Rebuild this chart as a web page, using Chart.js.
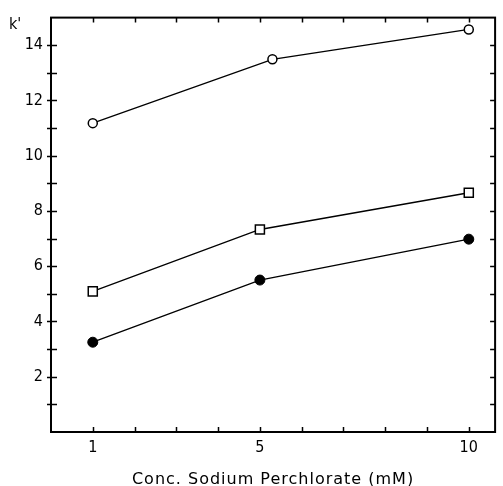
<!DOCTYPE html>
<html>
<head>
<meta charset="utf-8">
<script src="https://cdn.jsdelivr.net/npm/chart.js@4"></script>
<style>
  html, body { margin: 0; padding: 0; background: #fff; }
  #wrap { width: 503px; height: 486px; }
</style>
</head>
<body>
<div id="wrap"><canvas id="chart" width="503" height="486"></canvas></div>
<script>
// ====== data
const xOpenCircle = [1, 5.3, 10];
const kOpenCircle = [11.18, 13.49, 14.57];
const xSquare = [1, 5, 10];
const kSquare = [5.09, 7.33, 8.66];
const xFilled = [1, 5, 10];
const kFilled = [3.25, 5.5, 6.98];
const xTickLabels = [1, 5, 10];
const yTickLabels = [2, 4, 6, 8, 10, 12, 14];

const FONT = "'DejaVu Sans Condensed', 'DejaVu Sans', sans-serif";
const toPoints = (xs, ys) => xs.map((x, i) => ({ x, y: ys[i] }));

// ====== frame, inward ticks, axis titles
const framePlugin = {
  id: "frame",
  afterDraw: (chart) => {
    const { ctx, chartArea: a, scales } = chart;
    const x = scales.x, y = scales.y;
    ctx.save();
    ctx.strokeStyle = "#000";
    ctx.lineWidth = 2;
    ctx.strokeRect(a.left, a.top, a.right - a.left, a.bottom - a.top);

    ctx.lineWidth = 1.5;
    ctx.beginPath();
    for (let v = 1; v <= 10; v++) {
      const px = Math.round(x.getPixelForValue(v)) + 0.5;
      ctx.moveTo(px, a.bottom); ctx.lineTo(px, a.bottom - 5);
      ctx.moveTo(px, a.top); ctx.lineTo(px, a.top + 5);
    }
    for (let v = 1; v <= 14; v++) {
      const py = Math.round(y.getPixelForValue(v)) + 0.5;
      ctx.moveTo(a.left - 4, py); ctx.lineTo(a.left + 6, py);
      ctx.moveTo(a.right, py); ctx.lineTo(a.right - 5, py);
    }
    ctx.stroke();

    ctx.fillStyle = "#000";
    ctx.font = "16px " + FONT;
    ctx.textAlign = "left";
    ctx.textBaseline = "alphabetic";
    ctx.fillText("k'", 9, 29);

    ctx.font = "16px 'DejaVu Sans', sans-serif";
    ctx.letterSpacing = "1px";
    ctx.textAlign = "center";
    ctx.fillText("Conc. Sodium Perchlorate (mM)", (a.left + a.right) / 2, 484);
    ctx.restore();
  },
};

const ctx = document.getElementById("chart").getContext("2d");
new Chart(ctx, {
  type: "scatter",
  data: {
    datasets: [
      {
        data: toPoints(xOpenCircle, kOpenCircle),
        showLine: true,
        borderColor: "#000",
        borderWidth: 1.3,
        pointStyle: "circle",
        pointRadius: 4.5,
        pointBorderWidth: 1.5,
        pointBackgroundColor: "#fff",
        pointBorderColor: "#000",
      },
      {
        data: toPoints(xSquare, kSquare),
        showLine: true,
        borderColor: "#000",
        borderWidth: 1.3,
        pointStyle: "rect",
        pointRadius: 6.4,
        pointBorderWidth: 1.5,
        pointBackgroundColor: "#fff",
        pointBorderColor: "#000",
      },
      {
        data: toPoints(xFilled, kFilled),
        showLine: true,
        borderColor: "#000",
        borderWidth: 1.3,
        pointStyle: "circle",
        pointRadius: 5,
        pointBorderWidth: 1,
        pointBackgroundColor: "#000",
        pointBorderColor: "#000",
      },
    ],
  },
  options: {
    responsive: false,
    animation: false,
    layout: { padding: { top: 15, right: 2, left: 0, bottom: 0 } },
    plugins: { legend: { display: false }, tooltip: { enabled: false } },
    scales: {
      x: {
        type: "linear",
        min: 0,
        max: 10.63,
        grid: { display: false, drawTicks: false },
        border: { display: false },
        afterBuildTicks: (s) => {
          s.ticks = [0, 1, 2, 3, 4, 5, 6, 7, 8, 9, 10].map((value) => ({ value }));
        },
        ticks: {
          padding: 6,
          color: "#000",
          font: { family: FONT, size: 16 },
          maxRotation: 0,
          autoSkip: false,
          callback: (v) => (xTickLabels.includes(v) ? String(v) : ""),
        },
        afterFit: (s) => { s.height = 54; },
      },
      y: {
        type: "linear",
        min: 0,
        max: 15,
        grid: { display: false, drawTicks: false },
        border: { display: false },
        ticks: {
          stepSize: 1,
          padding: 8,
          color: "#000",
          font: { family: FONT, size: 16 },
          autoSkip: false,
          callback: (v) => (yTickLabels.includes(v) ? String(v) : ""),
        },
        afterFit: (s) => { s.width = 51; },
      },
    },
  },
  plugins: [framePlugin],
});
</script>
</body>
</html>
